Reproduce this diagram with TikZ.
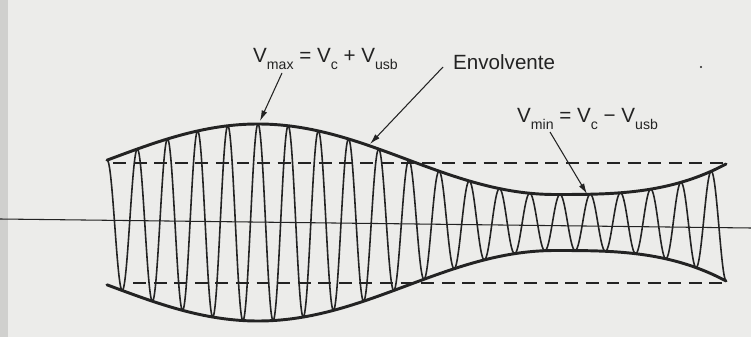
\documentclass[tikz,border=0pt]{standalone}
\usepackage{fontspec}
\setmainfont{Liberation Sans}
\usetikzlibrary{arrows.meta}
\definecolor{paper}{RGB}{236,236,234}
\definecolor{edgegray}{RGB}{208,208,206}
\definecolor{ink}{RGB}{35,35,35}
\newcommand{\lowsub}[1]{\raisebox{-0.3em}{\fontsize{12pt}{12pt}\selectfont #1}}
\begin{document}
\begin{tikzpicture}[x=0.85pt,y=-0.85pt,
  declare function={
    envu(\x)=max(\x-555,0)/171;
    env(\x)=(\x<555)*(63.25+35.25*cos(0.60606*(\x-258)))+(\x>=555)*(28+30.5*envu(\x)*envu(\x)*envu(\x));
  },
  envline/.style={draw=ink,line width=2.5pt,line cap=round,line join=round},
  carrier/.style={draw=ink,line width=1.35pt,line join=round},
  levelline/.style={draw=ink,line width=1.2pt,dash pattern=on 11pt off 6.5pt},
  axisline/.style={draw=ink,line width=0.9pt},
  pointer/.style={draw=ink,line width=0.9pt,-{Latex[length=9pt,width=5pt]}},
  lbl/.style={text=ink,font=\fontsize{17.5pt}{20pt}\selectfont,inner sep=0pt},
]
\useasboundingbox (0,0) rectangle (751,337);
\fill[paper] (0,0) rectangle (751,337);
\fill[edgegray] (0,0) rectangle (8,337);

% axis
\coordinate (axl) at (0,219);
\coordinate (axr) at (751,228);
\draw[axisline] (axl) -- (axr);

% dashed reference levels
\coordinate (dtl) at (113,163);
\coordinate (dtr) at (725,163);
\coordinate (dbl) at (133,283);
\coordinate (dbr) at (725,283);
\draw[levelline] (dtl) -- (dtr);
\draw[levelline] (dbl) -- (dbr);

% carrier
\draw[carrier] plot[domain=107:726,samples=1500] (\x,{222.5-env(\x)*cos(11.92053*(\x-107))});

% envelope
\draw[envline] plot[domain=107:726,samples=200] (\x,{222.5-env(\x)});
\draw[envline] plot[domain=107:726,samples=200] (\x,{222.5+env(\x)});

% labels
\node[lbl,anchor=base west] (vmax) at (253,63) {V\lowsub{max} = V\lowsub{c} + V\lowsub{usb}};
\node[lbl,anchor=base west] (envl) at (453,70) {Envolvente};
\node[lbl,anchor=base west] (vmin) at (517,123) {V\lowsub{min} = V\lowsub{c} − V\lowsub{usb}};

\coordinate (vmaxfrom) at (282,73);
\coordinate (vmaxtip) at (260,121);
\coordinate (envfrom) at (443,67);
\coordinate (envtip) at (370,144);
\coordinate (vminfrom) at (550,132);
\coordinate (vmintip) at (587,194);
\draw[pointer] (vmaxfrom) -- (vmaxtip);
\draw[pointer] (envfrom) -- (envtip);
\draw[pointer] (vminfrom) -- (vmintip);

\fill[ink] (701,67) circle (1.1);
\end{tikzpicture}
\end{document}
